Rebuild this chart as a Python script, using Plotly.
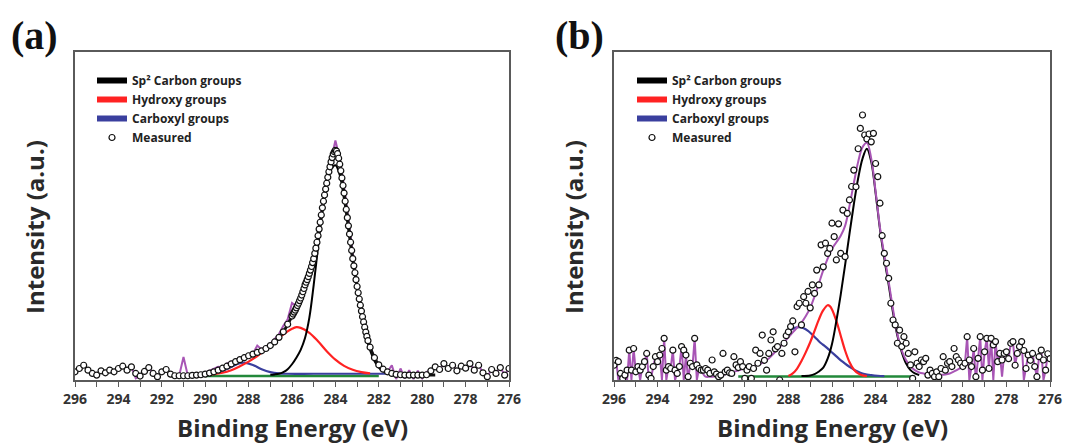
import numpy as np
import plotly.graph_objects as go

W, H = 1069, 445

# ---------------- Panel (a) data ----------------
a_meas_x = np.round(np.concatenate([np.linspace(296.0, 286.2, 50),
                                    np.linspace(286.0, 282.5, 71),
                                    np.linspace(282.4, 276.0, 33)]), 2)
a_meas_y = [
    2.5, 3.5, 4.5, 3.0, 2.0, 1.5, 2.8, 2.2, 3.0, 2.5,
    3.5, 4.2, 3.0, 4.0, 2.0, 1.2, 2.6, 3.8, 2.0, 1.0,
    2.5, 3.2, 1.8, 1.3, 1.3, 1.3, 1.3, 1.4, 1.5, 1.6,
    1.8, 2.1, 2.5, 3.0, 3.6, 4.2, 4.9, 5.6, 6.2, 6.8,
    7.4, 7.9, 8.4, 8.9, 9.6, 10.5, 11.6, 13.0, 14.7, 17.0,
    # 286.00 -> 282.50 (0.05 step)
    19.5, 20.1, 20.7, 21.3, 22.0, 22.7, 23.4, 24.2, 25.0, 25.9,
    26.9, 27.9, 29.0, 29.8, 30.6, 31.5, 32.5, 33.5, 34.6, 35.8,
    37.0, 38.6, 40.2, 42.0, 44.0, 46.0, 48.1, 50.3, 52.5, 54.5,
    56.4, 58.2, 60.0, 61.8, 63.5, 65.0, 66.5, 67.8, 68.9, 69.6,
    70.0, 69.8, 69.0, 67.6, 65.8, 63.8, 61.6, 59.3, 57.0, 54.5,
    52.0, 49.5, 47.0, 44.5, 42.0, 39.5, 37.0, 34.8, 32.7, 30.6,
    28.5, 26.6, 24.7, 22.8, 21.0, 19.3, 17.7, 16.1, 14.6, 13.3,
    12.0,
    # 282.4 -> 276.0
    10.0, 6.8, 4.6, 3.3, 2.5, 2.0, 1.7, 1.6, 1.5, 1.5,
    1.5, 1.5, 1.5, 1.6, 2.8, 4.0, 3.2, 5.0, 3.5, 4.5,
    2.8, 4.2, 3.6, 5.0, 3.0, 4.5, 2.2, 1.0, 3.2, 2.0,
    3.8, 1.5, 3.5,
]

a_raw_x = np.round(np.linspace(296.0, 276.0, 101), 2)
a_raw_y = [
    2.5, 3.5, 4.5, 3.0, 2.0, 1.5, 2.8, 2.2, 3.0, 2.5,
    3.5, 4.2, 3.0, 4.0, 0.5, 1.2, 2.6, 3.8, 2.0, 1.0,
    2.5, 3.2, 1.8, 1.3, 1.3, 7.0, 1.3, 1.4, 1.5, 1.6,
    2.2, 2.8, 3.2, 4.0, 3.9, 5.0, 5.6, 6.0, 6.8, 6.6,
    7.8, 8.0, 10.5, 9.3, 10.2, 11.0, 12.5, 14.0, 16.5, 18.5,
    23.5, 22.5, 26.0, 29.5, 33.0, 37.5, 44.5, 53.5, 60.5, 67.0,
    73.0, 67.5, 59.0, 49.0, 37.5, 28.5, 21.5, 14.5, 10.0, 6.8,
    4.6, 3.3, 2.5, 4.5, 0.3, 3.5, 0.5, 3.0, 0.3, 2.8,
    0.5, 2.5, 2.8, 4.0, 3.2, 5.0, 3.5, 4.5, 2.8, 4.2,
    3.6, 5.0, 3.0, 4.5, 2.2, 1.0, 3.2, 2.0, 3.8, 1.5,
    3.5,
]

a_env_x = [291.6, 291.2, 290.8, 290.4, 290.0, 289.6, 289.2, 288.8, 288.4, 288.0,
           287.6, 287.2, 286.8, 286.4, 286.0, 285.6, 285.2, 284.8, 284.4, 284.0,
           283.6, 283.2, 282.8, 282.4, 282.0, 281.6, 281.2, 280.8, 280.4, 280.0, 279.4]
a_env_y = [1.3, 1.3, 1.3, 1.5, 1.8, 2.5, 3.6, 4.9, 6.2, 7.4,
           8.4, 9.6, 11.6, 14.7, 19.5, 25.0, 32.5, 44.0, 60.0, 70.0,
           57.0, 37.0, 21.0, 10.0, 4.6, 2.5, 1.7, 1.5, 1.5, 1.5, 1.5]

a_sp2_x = [287.0, 286.8, 286.6, 286.4, 286.2, 286.0, 285.8, 285.6, 285.4, 285.2,
           285.0, 284.8, 284.6, 284.4, 284.2, 284.0, 283.8, 283.6, 283.4, 283.2,
           283.0, 282.8, 282.6, 282.4, 282.2, 282.0, 281.8, 281.6, 281.4]
a_sp2_y = [1.6, 1.7, 1.9, 2.4, 3.3, 4.8, 6.8, 9.2, 12.8, 19.0,
           29.0, 40.5, 51.5, 59.5, 64.2, 65.5, 62.5, 55.0, 46.0, 36.0,
           27.5, 20.0, 13.5, 9.0, 5.8, 3.8, 2.6, 2.0, 1.7]

a_hyd_x = [290.0, 289.6, 289.2, 288.8, 288.4, 288.0, 287.6, 287.2, 286.8, 286.4,
           286.0, 285.8, 285.6, 285.2, 284.8, 284.4, 284.0, 283.6, 283.2, 282.8, 282.4]
a_hyd_y = [1.5, 1.8, 2.2, 3.0, 4.2, 5.6, 7.3, 9.4, 11.7, 13.9,
           15.6, 16.1, 15.9, 14.4, 11.8, 8.8, 6.2, 4.3, 3.1, 2.4, 2.0]

a_carb_x = [290.0, 289.6, 289.2, 288.8, 288.4, 288.2, 287.8, 287.4, 287.0, 286.6,
            286.2, 285.0, 283.0, 281.6]
a_carb_y = [1.6, 2.0, 2.8, 4.0, 5.1, 5.3, 4.6, 3.3, 2.4, 2.0,
            1.9, 1.9, 1.9, 1.9]

a_base_x = [290.0, 282.0]
a_base_y = [1.2, 1.2]

# ---------------- Panel (b) data ----------------
b_meas_x = np.round(np.linspace(296.0, 276.0, 201), 2)
b_meas_y = [
    4.5, 6.0, 5.6, 2.0, 0.5, 1.5, 3.0, 9.1, 3.0, 9.6,
    2.5, 4.1, 3.0, 4.1, 5.6, 8.1, 1.5, 0.5, 4.1, 7.1,
    5.6, 7.6, 9.6, 12.7, 3.0, 4.1, 3.5, 9.1, 3.0, 2.0,
    4.1, 10.2, 9.1, 7.6, 1.0, 5.1, 4.1, 12.7, 4.6, 3.5,
    3.0,
    3.0, 3.5, 3.0, 2.0, 6.1, 2.5, 1.8, 1.0, 1.5, 8.1,
    2.5, 3.0, 2.2, 2.0, 7.1, 4.6, 3.8, 5.6, 4.1, 0.5,
    3.0, 4.1, 0.5, 3.5, 9.1, 5.1, 8.1, 13.7, 6.0, 3.0,
    8.1, 12.2, 14.7, 9.5, 10.2, 0.0, 8.1, 11.2, 13.5, 14.7,
    16.3, 18.0, 8.6, 22.4, 23.4, 16.8, 25.4, 23.4, 27.0, 22.0,
    29.0, 26.4, 33.5, 29.0, 41.2, 34.5, 41.7, 38.6, 40.1, 47.8,
    43.7, 36.6, 47.6, 38.6, 51.8, 37.6, 50.8, 54.9, 59.0, 64.0,
    58.9, 70.5, 76.7, 80.8, 74.7, 73.5, 75.0, 72.6, 75.2, 66.0,
    62.0, 53.9, 44.0, 38.6, 35.6, 31.0, 23.4, 18.3, 16.8, 11.2,
    15.2, 10.2, 13.2, 11.2, 8.1, 4.6, 0.5, 8.6, 5.1, 4.1,
    6.1, 5.6, 6.6, 1.5, 3.0, 2.0, 1.0, 2.5, 1.0, 3.5,
    7.1, 3.0, 5.1, 5.6, 4.1, 9.6, 7.1, 6.1, 5.1, 4.1,
    5.1, 13.2, 6.1, 4.1, 9.6, 1.0, 6.6, 13.2, 3.0, 8.6,
    12.7, 3.5, 12.7, 10.7, 11.7, 5.6, 8.1, 6.1, 8.1, 8.6,
    6.5, 11.2, 11.7, 4.5, 8.1, 10.2, 11.7, 9.0, 3.5, 7.6,
    6.0, 8.1, 4.1, 1.0, 7.1, 9.1, 6.1, 3.0, 8.0, 6.5,
]

b_rawL_x = np.round(np.linspace(296.0, 292.0, 41), 2)
b_rawL_y = [
    4.5, 6.0, 0.0, 2.0, 0.5, 1.5, 0.0, 9.1, 0.0, 9.6,
    2.5, 4.1, 0.0, 4.1, 5.6, 8.1, 0.0, 0.5, 4.1, 7.1,
    5.6, 7.6, 0.0, 12.7, 0.0, 4.1, 3.5, 9.1, 0.0, 2.0,
    4.1, 10.2, 0.0, 7.6, 0.0, 5.1, 4.1, 12.7, 0.0, 3.5,
    3.0,
]
b_rawR_x = np.round(np.linspace(280.0, 276.0, 41), 2)
b_rawR_y = [
    4.1, 5.1, 13.2, 0.0, 4.1, 9.6, 0.0, 6.6, 13.2, 0.0,
    8.6, 12.7, 3.5, 12.7, 0.0, 11.7, 5.6, 8.1, 1.0, 8.1,
    8.6, 6.5, 11.2, 11.7, 4.5, 8.1, 10.2, 11.7, 0.0, 3.5,
    7.6, 6.0, 8.1, 4.1, 1.0, 7.1, 9.1, 0.0, 3.0, 8.0,
    6.5,
]

b_env_x = np.round(np.linspace(292.0, 280.0, 61), 2)
b_env_y = [
    3.0, 1.0, 1.0, 1.1, 1.3, 1.6, 1.9, 2.3, 2.7, 3.1,
    3.5, 3.8, 4.2, 4.6, 5.2, 6.0, 7.2, 8.6, 10.0, 11.5,
    13.0, 14.5, 16.0, 17.5, 19.5, 22.0, 25.5, 29.5, 33.5, 37.0,
    40.0, 42.0, 44.0, 47.0, 53.0, 60.0, 66.5, 71.0, 72.3, 67.5,
    57.5, 46.5, 38.0, 30.0, 21.5, 14.0, 9.0, 6.0, 4.2, 3.0,
    2.3, 2.0, 1.8, 1.7, 1.6, 1.6, 1.7, 2.0, 2.6, 3.3,
    4.1,
]

b_sp2_x = [287.4, 287.0, 286.8, 286.6, 286.4, 286.2, 286.0, 285.8, 285.6, 285.4,
           285.2, 285.0, 284.8, 284.6, 284.4, 284.2, 284.0, 283.8, 283.6, 283.4,
           283.2, 283.0, 282.8, 282.6, 282.4, 282.2, 282.0]
b_sp2_y = [1.2, 1.4, 1.8, 2.6, 3.8, 6.5, 11.0, 18.0, 26.0, 35.0,
           44.5, 53.5, 61.5, 67.5, 70.5, 66.5, 57.0, 46.0, 37.0, 29.0,
           20.5, 13.5, 8.5, 5.0, 3.0, 2.0, 1.5]

b_hyd_x = [288.0, 287.8, 287.6, 287.4, 287.2, 287.0, 286.8, 286.6, 286.4, 286.2,
           286.1, 286.0, 285.8, 285.6, 285.4, 285.2, 285.0, 284.8, 284.6, 284.4]
b_hyd_y = [1.2, 2.0, 3.5, 5.8, 8.5, 11.5, 15.0, 18.5, 21.3, 22.8,
           22.5, 21.5, 18.0, 13.5, 9.0, 5.5, 3.2, 2.0, 1.4, 1.2]

b_carb_x = [287.9, 287.7, 287.5, 287.3, 287.1, 286.9, 286.7, 286.5, 286.3, 286.1,
            285.9, 285.7, 285.5, 285.3, 285.1, 284.9, 284.7, 284.5, 284.2, 283.9, 283.6]
b_carb_y = [15.3, 15.9, 16.1, 15.8, 15.0, 13.8, 12.5, 11.2, 10.2, 9.0,
            7.8, 6.6, 5.5, 4.5, 3.6, 2.8, 2.2, 1.8, 1.5, 1.3, 1.2]

b_base_x = [290.3, 282.3]
b_base_y = [1.1, 1.1]

legend_names = ["Sp² Carbon groups", "Hydroxy groups", "Carboxyl groups"]
legend_colors = ["#000000", "#ff2222", "#3a3f9e"]
tick_vals = [296, 294, 292, 290, 288, 286, 284, 282, 280, 278, 276]

# ---------------- styles ----------------
PURPLE = "#a855b5"
RED = "#ff2222"
BLUE = "#3a3f9e"
GREEN = "#22883a"

fig = go.Figure()


def add_panel(xa, ya, leg, meas, raws, env, env_color, env_width, sp2, hyd, carb, base):
    for rx, ry in raws:
        fig.add_trace(go.Scatter(x=rx, y=ry, mode="lines", xaxis=xa, yaxis=ya,
                                 line=dict(color=PURPLE, width=2), showlegend=False,
                                 hoverinfo="skip"))
    fig.add_trace(go.Scatter(x=base[0], y=base[1], mode="lines", xaxis=xa, yaxis=ya,
                             line=dict(color=GREEN, width=2.5), showlegend=False))
    fig.add_trace(go.Scatter(x=carb[0], y=carb[1], mode="lines", xaxis=xa, yaxis=ya,
                             line=dict(color=BLUE, width=2.2, shape="spline"), showlegend=False))
    fig.add_trace(go.Scatter(x=hyd[0], y=hyd[1], mode="lines", xaxis=xa, yaxis=ya,
                             line=dict(color=RED, width=2.2, shape="spline"), showlegend=False))
    fig.add_trace(go.Scatter(x=sp2[0], y=sp2[1], mode="lines", xaxis=xa, yaxis=ya,
                             line=dict(color="#000000", width=2, shape="spline"), showlegend=False))
    fig.add_trace(go.Scatter(x=env[0], y=env[1], mode="lines", xaxis=xa, yaxis=ya,
                             line=dict(color=env_color, width=env_width, shape="spline"),
                             showlegend=False))
    for name, col in zip(legend_names, legend_colors):
        fig.add_trace(go.Scatter(x=[None], y=[None], mode="lines", xaxis=xa, yaxis=ya,
                                 line=dict(color=col, width=6), name=name, legend=leg))
    fig.add_trace(go.Scatter(x=meas[0], y=meas[1], mode="markers", xaxis=xa, yaxis=ya,
                             marker=dict(symbol="circle", size=6, color="white",
                                         line=dict(color="#111111", width=1.2)),
                             name="Measured", legend=leg))


add_panel("x", "y", "legend", (a_meas_x, a_meas_y), [(a_raw_x, a_raw_y)],
          (a_env_x, a_env_y), "#111111", 3,
          (a_sp2_x, a_sp2_y), (a_hyd_x, a_hyd_y), (a_carb_x, a_carb_y), (a_base_x, a_base_y))
add_panel("x2", "y2", "legend2", (b_meas_x, b_meas_y), [(b_rawL_x, b_rawL_y), (b_rawR_x, b_rawR_y)],
          (b_env_x, b_env_y), PURPLE, 2,
          (b_sp2_x, b_sp2_y), (b_hyd_x, b_hyd_y), (b_carb_x, b_carb_y), (b_base_x, b_base_y))

LINE_COL = "#5a5a5a"
xax = dict(range=[296, 276], tickmode="array", tickvals=tick_vals,
           ticktext=[str(v) for v in tick_vals],
           ticks="outside", ticklen=5, tickwidth=1.2, tickcolor=LINE_COL,
           minor=dict(tickmode="linear", tick0=276, dtick=1, ticks="outside",
                      ticklen=5, tickwidth=1.2, tickcolor=LINE_COL),
           showline=True, linecolor=LINE_COL, linewidth=1.5, mirror=True,
           showgrid=False, zeroline=False, automargin=False,
           tickfont=dict(family="Open Sans", size=14, color="#333333", weight="bold"))
yax = dict(range=[0, 100], showticklabels=False, ticks="", showline=True,
           linecolor=LINE_COL, linewidth=1.5, mirror=True, showgrid=False, zeroline=False,
           automargin=False, domain=[(H - 380) / H, (H - 52) / H])


def px(x):
    return x / W


def py(y):
    return 1 - y / H


leg_common = dict(xanchor="left", yanchor="top", bgcolor="rgba(0,0,0,0)",
                  font=dict(family="Open Sans", size=12, color="#222222", weight="bold"),
                  itemwidth=30, tracegroupgap=0)

ann = []
for label, cx in [("(a)", 34), ("(b)", 579)]:
    ann.append(dict(text=label, x=px(cx), y=py(36), xref="paper", yref="paper",
                    showarrow=False, xanchor="center", yanchor="middle",
                    font=dict(family="Liberation Serif", size=40, color="#111111", weight="bold")))
for cx in [34, 573]:
    ann.append(dict(text="Intensity (a.u.)", x=px(cx), y=py(227), xref="paper", yref="paper",
                    showarrow=False, xanchor="center", yanchor="middle", textangle=-90,
                    font=dict(family="Open Sans", size=24, color="#2a2a2a", weight="bold")))
for cx in [292, 832]:
    ann.append(dict(text="Binding Energy (eV)", x=px(cx), y=py(427), xref="paper", yref="paper",
                    showarrow=False, xanchor="center", yanchor="middle",
                    font=dict(family="Open Sans", size=24, color="#2a2a2a", weight="bold")))

fig.update_layout(
    width=W, height=H, autosize=False,
    margin=dict(l=0, r=0, t=0, b=0, pad=0, autoexpand=False),
    paper_bgcolor="white", plot_bgcolor="white",
    xaxis=dict(xax, domain=[px(75), px(509)], anchor="y"),
    yaxis=dict(yax, anchor="x"),
    xaxis2=dict(xax, domain=[px(614), px(1050)], anchor="y2"),
    yaxis2=dict(yax, anchor="x2"),
    legend=dict(leg_common, x=px(92), y=py(66)),
    legend2=dict(leg_common, x=px(632), y=py(66)),
    annotations=ann,
)

fig.write_html("out.html",
               config={"displayModeBar": False, "responsive": False},
               post_script="document.body.style.margin='0';document.body.style.padding='0';"
                           "document.documentElement.style.overflow='hidden';")
